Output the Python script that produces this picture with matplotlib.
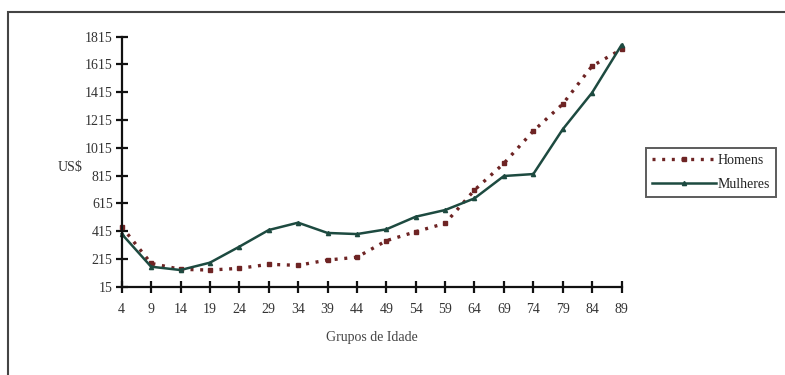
import numpy as np
import matplotlib.pyplot as plt
from matplotlib.patches import Rectangle

plt.rcParams['font.family'] = ['Liberation Serif', 'DejaVu Serif']

idades = [4, 9, 14, 19, 24, 29, 34, 39, 44, 49, 54, 59, 64, 69, 74, 79, 84, 89]
homens = [447, 183, 140, 135, 147, 176, 169, 207, 227, 346, 411, 471, 711, 903,
          1136, 1330, 1604, 1724]
mulheres = [395, 159, 135, 188, 303, 423, 476, 402, 394, 428, 519, 567, 651, 812,
            826, 1148, 1412, 1755]
y_ticks = [15, 215, 415, 615, 815, 1015, 1215, 1415, 1615, 1815]

cor_h = '#6e2424'
cor_m = '#1d4a40'
fs = 10

fig = plt.figure(figsize=(7.85, 3.75), dpi=100)
ax = fig.add_axes([121.7 / 785, 1 - 286.7 / 375, 499.8 / 785, 250 / 375])

ax.plot(idades, homens, color=cor_h, lw=2.4, linestyle=(0, (0.9, 2.0)),
        marker='s', markersize=3.5, label='Homens', clip_on=False)
ax.plot(idades, mulheres, color=cor_m, lw=1.8, marker='^', markersize=3,
        label='Mulheres', clip_on=False)

ax.set_xlim(4, 89)
ax.set_ylim(15, 1815)
ax.set_xticks(idades)
ax.set_yticks(y_ticks)
for s in ['top', 'right']:
    ax.spines[s].set_visible(False)
for s in ['left', 'bottom']:
    ax.spines[s].set_linewidth(1.6)
    ax.spines[s].set_color('#111111')
ax.tick_params(direction='inout', length=9, width=1.6, color='#111111',
               labelsize=fs, labelcolor='#333333')
ax.tick_params(axis='x', pad=7)
ax.tick_params(axis='y', pad=2)

ax.set_xlabel('Grupos de Idade', fontsize=fs, color='#444444', labelpad=11)
fig.text(70 / 785, 1 - 168 / 375, 'US$', fontsize=fs, color='#333333',
         ha='center', va='center')

leg = ax.legend(loc='upper left', bbox_to_anchor=(646 / 785, 1 - 148 / 375),
                bbox_transform=fig.transFigure, frameon=True, fancybox=False,
                fontsize=fs, handlelength=4.6, handletextpad=0.1,
                borderpad=0.45, labelspacing=0.75, borderaxespad=0)
leg.get_frame().set_edgecolor('#333333')
leg.get_frame().set_linewidth(1.4)
for t in leg.get_texts():
    t.set_color('#222222')

# moldura externa do gráfico
fig.patches.append(Rectangle((8 / 785, -0.1), 1.0, 1 - 12 / 375 + 0.1,
                             transform=fig.transFigure, fill=False,
                             edgecolor='#444444', lw=1.5))

fig.savefig('out.png', dpi=100)
